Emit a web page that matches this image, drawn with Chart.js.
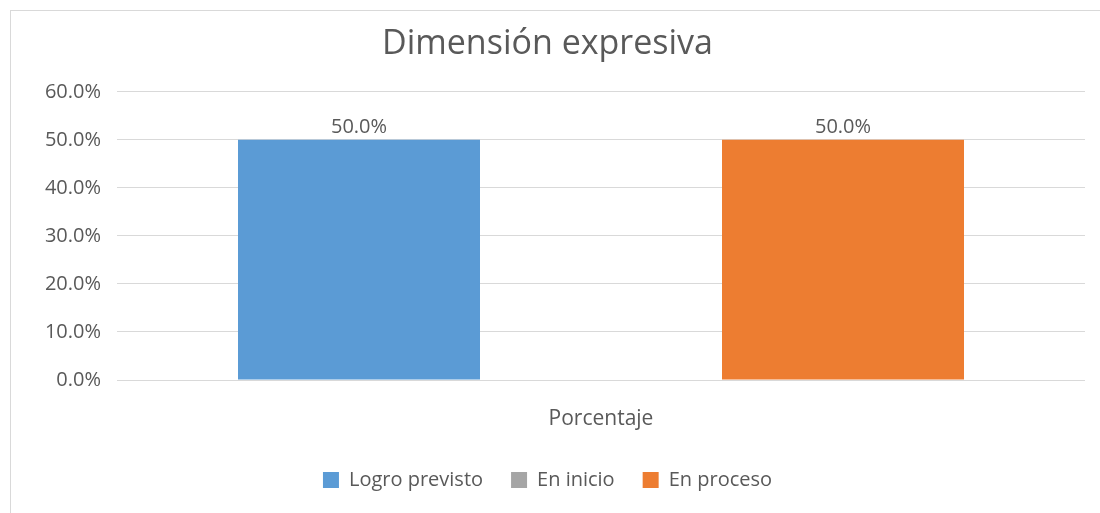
<!DOCTYPE html>
<html>
<head>
<meta charset="utf-8">
<script src="https://cdn.jsdelivr.net/npm/chart.js@4.4.0/dist/chart.umd.min.js"></script>
<style>
  html, body { margin: 0; padding: 0; background: #fff; }
  #wrap { position: relative; width: 1100px; height: 513px; }
  #frame {
    position: absolute; left: 10px; top: 10px; width: 1090px; height: 503px;
    border-left: 1px solid #d9d9d9; border-top: 1px solid #d9d9d9;
  }
  #chartCanvas { position: absolute; left: 0; top: 0; }
</style>
</head>
<body>
<div id="wrap">
  <div id="frame"></div>
  <canvas id="chartCanvas" width="1100" height="513"></canvas>
</div>
<script>
const chartTitle = 'Dimensión expresiva';
const categories = ['Porcentaje'];
const seriesNames = ['Logro previsto', 'En inicio', 'En proceso'];
const logroPrevisto = [50.0];
const enInicio = [0.0];
const enProceso = [50.0];
const seriesColors = ['#5B9BD5', '#A5A5A5', '#ED7D31'];

const textColor = '#595959';
const fontFamily = '"Open Sans", "DejaVu Sans", sans-serif';

// draws the "50.0%" labels above the bars
const barLabels = {
  id: 'barLabels',
  afterDatasetsDraw(chart) {
    const ctx = chart.ctx;
    ctx.save();
    ctx.font = '20px ' + fontFamily;
    ctx.fillStyle = textColor;
    ctx.textAlign = 'center';
    ctx.textBaseline = 'bottom';
    chart.data.datasets.forEach((ds, i) => {
      const meta = chart.getDatasetMeta(i);
      meta.data.forEach((bar, j) => {
        const v = ds.data[j];
        if (!v) return; // no label for empty series
        ctx.fillText(v.toFixed(1) + '%', bar.x, bar.y - 3);
      });
    });
    ctx.restore();
  }
};

const ctx = document.getElementById('chartCanvas').getContext('2d');
const chart = new Chart(ctx, {
  type: 'bar',
  data: {
    labels: categories,
    datasets: [
      { label: seriesNames[0], data: logroPrevisto, backgroundColor: seriesColors[0] },
      { label: seriesNames[1], data: enInicio, backgroundColor: seriesColors[1] },
      { label: seriesNames[2], data: enProceso, backgroundColor: seriesColors[2] }
    ]
  },
  options: {
    responsive: false,
    animation: false,
    categoryPercentage: 0.75,
    barPercentage: 1,
    layout: {
      padding: { left: 10, right: 15, top: 10, bottom: 13 }
    },
    scales: {
      x: {
        grid: { display: false },
        border: { display: false },
        ticks: {
          color: textColor,
          padding: 18,
          font: { family: fontFamily, size: 21 }
        },
        afterFit(scale) { scale.height = 62; }
      },
      y: {
        min: 0,
        max: 60,
        ticks: {
          stepSize: 10,
          color: textColor,
          padding: 16,
          font: { family: fontFamily, size: 20 },
          callback: v => v.toFixed(1) + '%'
        },
        grid: { color: '#d9d9d9', drawTicks: false },
        border: { display: false },
        afterFit(scale) { scale.width = 107; }
      }
    },
    plugins: {
      title: {
        display: true,
        text: chartTitle,
        color: textColor,
        font: { family: fontFamily, size: 34, weight: 'normal' },
        padding: { top: 14, bottom: 27 }
      },
      legend: {
        position: 'bottom',
        labels: {
          color: textColor,
          boxWidth: 16,
          boxHeight: 16,
          padding: 28,
          font: { family: fontFamily, size: 20 }
        }
      },
      tooltip: { enabled: false }
    }
  },
  plugins: [barLabels]
});
</script>
</body>
</html>
